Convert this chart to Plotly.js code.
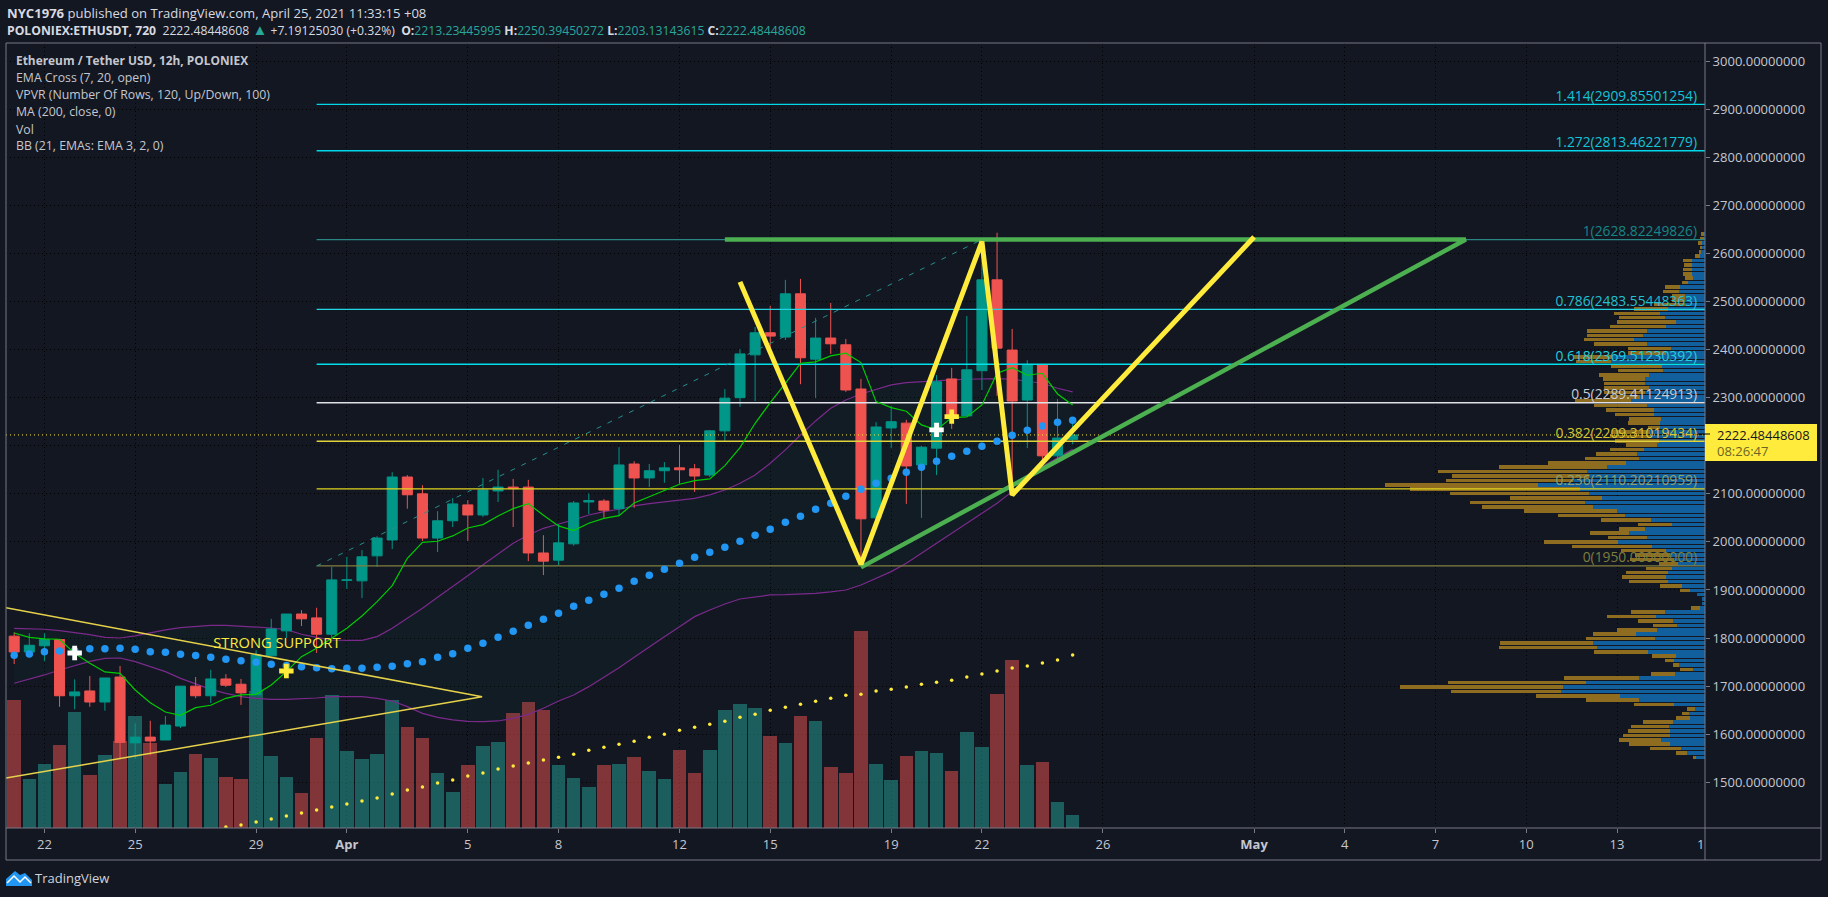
<!DOCTYPE html>
<html><head><meta charset="utf-8">
<script src="https://cdn.plot.ly/plotly-3.0.1.min.js"></script>
<style>html,body{margin:0;padding:0;background:#131722;overflow:hidden}#chart{width:1828px;height:897px}</style>
</head><body><div id="chart"></div>
<script>
const barTimes=['2021-03-21 00:00','2021-03-21 12:00','2021-03-22 00:00','2021-03-22 12:00','2021-03-23 00:00','2021-03-23 12:00','2021-03-24 00:00','2021-03-24 12:00','2021-03-25 00:00','2021-03-25 12:00','2021-03-26 00:00','2021-03-26 12:00','2021-03-27 00:00','2021-03-27 12:00','2021-03-28 00:00','2021-03-28 12:00','2021-03-29 00:00','2021-03-29 12:00','2021-03-30 00:00','2021-03-30 12:00','2021-03-31 00:00','2021-03-31 12:00','2021-04-01 00:00','2021-04-01 12:00','2021-04-02 00:00','2021-04-02 12:00','2021-04-03 00:00','2021-04-03 12:00','2021-04-04 00:00','2021-04-04 12:00','2021-04-05 00:00','2021-04-05 12:00','2021-04-06 00:00','2021-04-06 12:00','2021-04-07 00:00','2021-04-07 12:00','2021-04-08 00:00','2021-04-08 12:00','2021-04-09 00:00','2021-04-09 12:00','2021-04-10 00:00','2021-04-10 12:00','2021-04-11 00:00','2021-04-11 12:00','2021-04-12 00:00','2021-04-12 12:00','2021-04-13 00:00','2021-04-13 12:00','2021-04-14 00:00','2021-04-14 12:00','2021-04-15 00:00','2021-04-15 12:00','2021-04-16 00:00','2021-04-16 12:00','2021-04-17 00:00','2021-04-17 12:00','2021-04-18 00:00','2021-04-18 12:00','2021-04-19 00:00','2021-04-19 12:00','2021-04-20 00:00','2021-04-20 12:00','2021-04-21 00:00','2021-04-21 12:00','2021-04-22 00:00','2021-04-22 12:00','2021-04-23 00:00','2021-04-23 12:00','2021-04-24 00:00','2021-04-24 12:00','2021-04-25 00:00'];
const openPrice=[1804,1771,1784,1797,1680,1690,1667,1719,1582,1594,1588,1617,1700,1680,1715,1704,1682,1763,1815,1850,1842,1808,1920,1919,1971,2004,2135,2100,2008,2044,2077,2056,2106,2114,2114,1977,1962,1996,2083,2085,2069,2162,2133,2148,2154,2152,2139,2231,2300,2389,2435,2426,2516,2380,2424,2410,2318,2050,2237,2247,2160,2195,2339,2262,2356,2545,2399,2295,2368,2179,2213.23];
const closePrice=[1771,1785,1797,1680,1688,1667,1717,1583,1594,1586,1619,1700,1680,1715,1702,1686,1765,1819,1850,1840,1808,1921,1921,1969,2008,2135,2098,2008,2044,2079,2056,2108,2114,2111,1977,1960,1998,2081,2086,2066,2160,2133,2148,2154,2150,2137,2231,2299,2391,2435,2428,2516,2383,2424,2412,2316,2048,2239,2250,2158,2197,2333,2262,2358,2545,2403,2293,2368,2179,2216,2222.48];
const highPrice=[1812,1810,1810,1797,1714,1721,1717,1742,1623,1628,1638,1700,1719,1734,1725,1715,1775,1840,1850,1858,1863,1948,1969,1983,2012,2145,2139,2118,2064,2091,2087,2133,2150,2131,2129,2014,2037,2085,2101,2089,2197,2168,2162,2166,2202,2162,2233,2318,2401,2447,2491,2545,2547,2466,2497,2422,2339,2249,2283,2254,2200,2347,2362,2470,2625,2643,2443,2378,2370,2297,2250.39];
const lowPrice=[1746,1760,1752,1657,1652,1657,1649,1548,1548,1556,1588,1613,1675,1665,1698,1661,1682,1763,1800,1825,1769,1799,1902,1883,1948,1985,2069,2002,1979,2031,2002,2052,2083,2031,1960,1931,1951,1992,2058,2050,2056,2071,2114,2123,2121,2104,2135,2210,2281,2293,2392,2420,2328,2299,2391,2312,1952,2046,2195,2079,2050,2139,2235,2262,2316,2304,2097,2195,2157,2174,2203.13];
const emaFast=[1810.6,1801.6,1798.2,1797.5,1768.3,1747.5,1729.5,1726.7,1692,1665.7,1646.3,1639.4,1655.3,1660.2,1674.7,1681.7,1683,1702.5,1730.2,1761.4,1778.7,1799.5,1820.3,1846,1875.8,1909,1966,1999.2,2001.3,2012.4,2029,2036,2054,2069.3,2079.6,2055.4,2033.2,2023.5,2038.7,2049,2054.7,2081,2094.2,2108,2119.9,2127.5,2131,2158.7,2196,2246.7,2289.7,2329.9,2371.5,2374.3,2386.8,2392.4,2372.9,2291.8,2279.3,2271.7,2243.3,2232.9,2258.5,2259.9,2284.9,2350.7,2362.5,2346.6,2350.7,2307.7,2284.9];
const bbUpper=[1820.3,1819.6,1818.3,1815.5,1812,1807.2,1801.6,1800.2,1804.4,1811.3,1816.9,1821.7,1824.5,1826.6,1826.6,1825.2,1823.8,1821,1817.6,1807.9,1801.6,1796,1795.4,1795.4,1803,1820.3,1841,1861.9,1884.8,1907,1929.9,1952,1974.3,1997.1,2014.5,2028.3,2037.3,2045.7,2056,2063,2067.9,2074.8,2079.6,2083.8,2086.6,2090.7,2097.7,2108,2121.9,2139.2,2163.5,2191.3,2222.4,2251.6,2277.9,2295.3,2307.7,2317.4,2326.4,2331.3,2333.4,2336.2,2336.9,2338.3,2339.6,2339.6,2338.3,2334.8,2329.9,2319.5,2311.9];
const bbLower=[1706,1714.3,1723.3,1733.7,1743.4,1751.7,1757.9,1758.6,1751,1740.6,1730.2,1716.3,1704.5,1693.4,1685.1,1678.2,1674.7,1672.6,1672.6,1673.3,1675.4,1678.2,1678.9,1678.2,1674.7,1669.2,1657.4,1643.5,1635.2,1629.7,1626.9,1626.2,1627.6,1633.1,1641.4,1653.9,1669.2,1681.6,1699,1718.4,1738.5,1760,1782.2,1803,1823.8,1844.6,1858.4,1870.9,1881.3,1886.2,1889.7,1890.3,1891,1893.1,1895.9,1900,1910.4,1924.3,1938.2,1955.5,1976.3,1997.1,2017.9,2038.7,2059.5,2080.3,2104.6,2128.8,2156.6,2173.9,2192.7];
const maSlow=[1764.2,1767,1771.8,1773.2,1773.9,1778,1778,1778.7,1776.6,1771.8,1770.4,1766.3,1763.5,1760,1755.8,1753,1749.6,1745.4,1742.7,1740.6,1738.5,1736.4,1737.1,1737.1,1739.2,1741.3,1746.8,1751,1760,1767.6,1778.7,1789.1,1801.6,1814.1,1826.6,1839,1851.5,1866.1,1878.6,1891,1903.5,1918,1930.6,1943,1955.5,1968,1978.4,1988.8,2001.3,2013.8,2026.2,2040.8,2053.3,2067.8,2080.3,2094.9,2109.4,2121.9,2132.3,2144.8,2155.2,2167.7,2178.1,2188.5,2198.9,2209.3,2221.8,2232.2,2241.2,2248.8,2253];
const volume=[128.3,49.3,64.3,83.3,116.3,53.3,73.3,87.3,112.3,85.3,44.3,56.3,74.3,70.3,51.3,49.3,137.3,72.3,51.3,35.3,90.3,133.3,77.3,69.3,74.3,128.3,101.3,90.3,55.3,36.3,63.3,82.3,86.3,115.3,126.3,118.3,63.3,50.3,41.3,63.3,64,71,57,49,78,55,78,118,124,120,92,85,112,107,61,55,197.5,64,48,72,77,75,57,96,81,134,168,63,66,26,13];
const volAverage=[null,null,null,null,null,null,null,null,null,null,null,null,null,null,1,3,6,9,12,15,18,21,24,27,30,34,38,41,45,48,52,55,59,62,65,68,70.7,73.7,77.7,80.7,83.7,86.7,90.7,93.7,97.7,100.7,103.7,106.7,110.7,113.7,117.7,120.7,123.7,126.7,129.7,132.7,133.7,137,138.7,141,143.7,145.7,147.7,151,154,157,160,162,165,168,173];
const profilePrice=[1552.0,1561.1,1570.3,1579.4,1588.6,1597.7,1606.9,1616.0,1625.1,1634.3,1643.4,1652.6,1661.7,1670.9,1680.0,1689.1,1698.3,1707.4,1716.6,1725.7,1734.9,1744.0,1753.1,1762.3,1771.4,1780.6,1789.7,1798.9,1808.0,1817.1,1826.3,1835.4,1844.6,1853.7,1862.9,1872.0,1881.1,1890.3,1899.4,1908.6,1917.7,1926.9,1936.0,1945.1,1954.3,1963.4,1972.6,1981.7,1990.9,2000.0,2009.1,2018.3,2027.4,2036.6,2045.7,2054.9,2064.0,2073.1,2082.3,2091.4,2100.6,2109.7,2118.9,2128.0,2137.1,2146.3,2155.4,2164.6,2173.7,2182.9,2192.0,2201.1,2210.3,2219.4,2228.6,2237.7,2246.9,2256.0,2265.1,2274.3,2283.4,2292.6,2301.7,2310.9,2320.0,2329.1,2338.3,2347.4,2356.6,2365.7,2374.9,2384.0,2393.1,2402.3,2411.4,2420.6,2429.7,2438.9,2448.0,2457.1,2466.3,2475.4,2484.6,2493.7,2502.9,2512.0,2521.1,2530.3,2539.4,2548.6,2557.7,2566.9,2576.0,2585.1,2594.3,2603.4,2612.6,2621.7,2630.9,2640.0];
const profileUp=[9.3,18.3,24.3,35.3,44.3,35.3,35.3,36.3,32.3,15.3,16.3,10.3,31.3,66.3,85.3,144.3,142.3,119.3,66.3,30.3,12.3,26.3,31.3,29.3,57.3,108.3,112.3,50.3,69.3,48.3,28.3,32.3,49.3,40.3,5.3,3.3,3.3,8.3,15.3,23.3,37.3,39.3,37.3,33.3,27.3,31.3,35.3,39.3,53.3,87.3,58.3,76.3,60.3,33.3,54.3,80.3,88.3,112.3,120.3,103.3,116.3,125.3,167.3,132.3,116.3,118.3,98.3,79.3,66.3,68.3,61.3,48.3,46.3,55.3,55.3,45.3,45.3,44.3,51.3,51.3,58.3,74.3,65.3,60.3,56.3,60.3,60.3,56.3,42.3,43.3,93.7,93.7,38.7,34.3,58.3,71.3,62.3,58.3,39.3,29.3,40.3,45.3,37.3,20,20.3,20.3,26,25.3,17.3,12,13.3,13.3,13.3,13.3,5.3,4.3,3.3,3.3,1.3,1.3];
const profileDown=[2.7,11,31,41,42,47,42,38,30,14,7,8,40,53,84,110,163,138,75,24,13,6,9,24,54,98,93,69,43,40,24,35,49,34,9,0,0,0,10,22,39,44,42,26,19,44,35,45,80,74,39,39,26,34,50,67,93,111,115,92,139,170,153,127,137,149,108,78,54,41,34,31,44,40,38,12,32,32,39,48,53,56,30,41,45,41,42,50,45,51,35,37,38,43,53,50,56,60,56,59,46,46,34,31,13,13,16,15,6,8.3,9,9,8,9,5,2,2,4,4,3];
const fibRatios=['0','0.236','0.382','0.5','0.618','0.786','1','1.272','1.414'];
const fibLevels=[1950.00000000,2110.20210959,2209.31019434,2289.41124913,2369.51230392,2483.55448363,2628.82249826,2813.46221779,2909.85501254];
const fibLevelText=['1950.00000000','2110.20210959','2209.31019434','2289.41124913','2369.51230392','2483.55448363','2628.82249826','2813.46221779','2909.85501254'];
const fibColors=['#807f3e','#e2d41e','#e0d23a','#dfe1e6','#00e0ea','#22d3e0','#2a8585','#00d8e8','#00d8e8'];
const fibTextColors=['#7d7e3e','#8fa070','#d6c632','#c9ccd4','#22cfdc','#22c0d2','#178686','#12c4d8','#12c4d8'];
const zigzagTimes=['2021-04-14 00:00','2021-04-18 00:00','2021-04-22 00:00','2021-04-23 00:00','2021-05-01 00:00'];
const zigzagPrices=[2540.8,1953.5,2624.6,2097.7,2634];
const channelTimes=['2021-04-13 12:00','2021-05-08 00:00','2021-04-18 00:00'];
const channelPrices=[2629,2629,1947];
const wedgeTimes=['2021-03-20 17:30','2021-04-05 11:20','2021-03-20 17:30'];
const wedgePrices=[1863,1678,1509];
const fibDiagonalTimes=['2021-03-31 00:00','2021-04-22 00:00'];
const fibDiagonalPrices=[1950,2628.82];
const crossWhiteTimes=['2021-03-23 00:00','2021-04-20 12:00'];
const crossWhitePrices=[1769,2233];
const crossGoldTimes=['2021-03-30 00:00','2021-04-21 00:00'];
const crossGoldPrices=[1731.5,2260.6];
const lastPrice=2222.48448608;
const tickDates=['2021-03-22','2021-03-25','2021-03-29','2021-04-01','2021-04-05','2021-04-08','2021-04-12','2021-04-15','2021-04-19','2021-04-22','2021-04-26','2021-05-01','2021-05-04','2021-05-07','2021-05-10','2021-05-13'];
const tickLabels=['22','25','29','<b>Apr</b>','5','8','12','15','19','22','26','<b>May</b>','4','7','10','13'];
const priceTicks=[1500,1600,1700,1800,1900,2000,2100,2200,2300,2400,2500,2600,2700,2800,2900,3000];

const FONT='"Open Sans",sans-serif', BG='#131722', FRAME='#787b86';
const xRange=['2021-03-20 17:30','2021-05-15 21:50'], yRange=[1405,3037.6];
const px=x=>(x-6)/1699, py=y=>(828-y)/785;
const TEAL='#009688', RED='#ef5350';
const up=closePrice.map((c,i)=>c>=openPrice[i]);
const fibStart='2021-03-31 00:00', fibEnd=xRange[1], fibLabelAt='2021-05-15 15:30';
const skip={hoverinfo:'skip',showlegend:false};
const upperLayer={xaxis:'x3',yaxis:'y3'};

const traces=[
 {type:'bar',x:barTimes,y:volume,width:12*3600e3*0.9,marker:{color:up.map(u=>u?'rgba(38,166,154,0.5)':'rgba(239,83,80,0.5)'),line:{width:0}},xaxis:'x',yaxis:'y',...skip},
 {type:'scatter',mode:'markers',x:barTimes,y:volAverage,marker:{color:'#ffeb3b',size:3.5},xaxis:'x',yaxis:'y',...skip},
 {type:'scatter',mode:'lines',x:barTimes,y:bbLower,line:{color:'#7b2a8c',width:1.2},xaxis:'x',yaxis:'y2',...skip},
 {type:'scatter',mode:'lines',x:barTimes,y:bbUpper,line:{color:'#7b2a8c',width:1.2},fill:'tonexty',fillcolor:'rgba(0,150,136,0.04)',xaxis:'x',yaxis:'y2',...skip},
 {type:'bar',orientation:'h',y:profilePrice,x:profileUp,width:7.4,marker:{color:'#125f9e',line:{width:0}},xaxis:'x2',yaxis:'y2',...skip},
 {type:'bar',orientation:'h',y:profilePrice,x:profileDown,width:7.4,marker:{color:'#8e6d20',line:{width:0}},xaxis:'x2',yaxis:'y2',...skip},
];
fibLevels.forEach((v,i)=>traces.push({type:'scatter',mode:'lines',x:[fibStart,fibEnd],y:[v,v],line:{color:fibColors[i],width:1.3},...upperLayer,...skip}));
traces.push(
 {type:'scatter',mode:'lines',x:fibDiagonalTimes,y:fibDiagonalPrices,line:{color:'#268e8e',width:1,dash:'5px,7px'},...upperLayer,...skip},
 {type:'candlestick',x:barTimes,open:openPrice,high:highPrice,low:lowPrice,close:closePrice,...upperLayer,whiskerwidth:0,
  increasing:{line:{color:TEAL,width:1},fillcolor:TEAL},decreasing:{line:{color:RED,width:1},fillcolor:RED},...skip},
 {type:'scatter',mode:'lines',x:[xRange[0],xRange[1]],y:[lastPrice,lastPrice],line:{color:'#ffeb3b',width:1,dash:'1px,3px'},...upperLayer,...skip},
 {type:'scatter',mode:'markers',x:barTimes,y:maSlow,marker:{color:'#2196f3',size:7.5},...upperLayer,...skip},
 {type:'scatter',mode:'lines',x:barTimes,y:emaFast,line:{color:'#00cc00',width:1.2},...upperLayer,...skip},
 {type:'scatter',mode:'lines',x:wedgeTimes,y:wedgePrices,line:{color:'#e6d24a',width:1.5},...upperLayer,...skip},
 {type:'scatter',mode:'lines',x:channelTimes,y:channelPrices,line:{color:'#4caf50',width:4.5},...upperLayer,...skip},
 {type:'scatter',mode:'lines',x:zigzagTimes,y:zigzagPrices,line:{color:'#ffeb3b',width:5},...upperLayer,...skip},
 {type:'scatter',mode:'markers',x:crossWhiteTimes,y:crossWhitePrices,marker:{symbol:'cross',color:'#ffffff',size:12},...upperLayer,...skip},
 {type:'scatter',mode:'markers',x:crossGoldTimes,y:crossGoldPrices,marker:{symbol:'cross',color:'#ffeb3b',size:12},...upperLayer,...skip},
 {type:'scatter',mode:'text',x:fibLevels.map(()=>fibLabelAt),y:fibLevels,text:fibRatios.map((r,i)=>r+'('+fibLevelText[i]+')'),textposition:'top left',
  textfont:{family:FONT,size:13.8,color:fibTextColors},...upperLayer,...skip},
 {type:'scatter',mode:'text',x:['2021-03-29 16:30'],y:[1786],text:['STRONG SUPPORT'],textposition:'middle center',textfont:{family:FONT,size:14.7,color:'#ffeb3b'},...upperLayer,...skip}
);

const note=(x,y,text,o={})=>Object.assign({xref:'paper',yref:'paper',x:px(x),y:py(y),text,showarrow:false,xanchor:'left',yanchor:'middle',align:'left',borderpad:0,
   font:{family:FONT,size:12.3,color:'#c4c7cf'}},o);
const tc=s=>`<span style="color:#2aa79b">${s}</span>`;
const annotations=[
 note(6,13,'<b>NYC1976</b> published on TradingView.com, April 25, 2021 11:33:15 +08',{font:{family:FONT,size:13.1,color:'#d8dae0'}}),
 note(6,29,`<b>POLONIEX:ETHUSDT, 720</b>  2222.48448608 <span style="color:#2aa79b;font-size:15px">▲</span> +7.19125030 (+0.32%)  <b>O:</b>${tc('2213.23445995')} <b>H:</b>${tc('2250.39450272')} <b>L:</b>${tc('2203.13143615')} <b>C:</b>${tc('2222.48448608')}`,{font:{family:FONT,size:12.2,color:'#d8dae0'}}),
 note(15,60,'<b>Ethereum / Tether USD, 12h, POLONIEX</b>',{font:{family:FONT,size:11.9,color:'#c4c7cf'}}),
 note(15,77,'EMA Cross (7, 20, open)'),
 note(15,95,'VPVR (Number Of Rows, 120, Up/Down, 100)'),
 note(15,112,'MA (200, close, 0)'),
 note(15,129,'Vol'),
 note(15,146,'BB (21, EMAs: EMA 3, 2, 0)'),
 note(1716,435,'2222.48448608',{font:{family:FONT,size:13,color:'#131722'}}),
 note(1716,451,'08:26:47',{font:{family:FONT,size:13,color:'#6b6425'}}),
 note(1705,844,'1',{xanchor:'right',font:{family:FONT,size:13,color:'#c4c7cf'}}),
 note(34,878,'TradingView',{font:{family:FONT,size:13,color:'#d1d4dc'}})
];
const seg=(x0,y0,x1,y1,color=FRAME)=>({type:'line',xref:'paper',yref:'paper',x0:px(x0),y0:py(y0),x1:px(x1),y1:py(y1),line:{color,width:1},layer:'above'});
const shapes=[
 seg(6,43,1821,43),seg(6,43,6,860),seg(6,860,1821,860),seg(1821,43,1821,860),seg(1705,43,1705,860),seg(6,828,1821,828),
 {type:'rect',xref:'paper',yref:'paper',x0:px(1705),x1:px(1817),y0:py(424),y1:py(461),fillcolor:'#ffeb3b',line:{width:0},layer:'above'},
 seg(1698,434,1710,434,'#000000'),
 {type:'path',xref:'paper',yref:'paper',layer:'above',fillcolor:'#2196f3',line:{width:0},
  path:`M ${px(6)} ${py(886)} L ${px(6)} ${py(879)} L ${px(15)} ${py(871)} L ${px(20)} ${py(875)} L ${px(25)} ${py(873)} L ${px(32)} ${py(880)} L ${px(32)} ${py(886)} Z`},
 {type:'path',xref:'paper',yref:'paper',layer:'above',line:{color:'#ffffff',width:1.5},
  path:`M ${px(7)} ${py(883)} L ${px(14)} ${py(876)} L ${px(20)} ${py(882)} L ${px(25)} ${py(877)} L ${px(31)} ${py(883)}`}
];
const layout={
 width:1828,height:897,margin:{l:6,r:123,t:43,b:69,pad:0},paper_bgcolor:BG,plot_bgcolor:BG,showlegend:false,barmode:'stack',boxgap:0.15,boxgroupgap:0.22,
 font:{family:FONT,size:13,color:'#c4c7cf'},
 xaxis:{type:'date',range:xRange,tickmode:'array',tickvals:tickDates,ticktext:tickLabels,ticks:'outside',ticklen:4,tickcolor:FRAME,tickwidth:1,
   showgrid:true,gridcolor:'#000000',griddash:'1px,3px',gridwidth:1,zeroline:false,showline:false,rangeslider:{visible:false},tickfont:{family:FONT,size:13,color:'#c4c7cf'},fixedrange:true},
 xaxis2:{overlaying:'x',anchor:'y2',range:[1699,0],visible:false,fixedrange:true},
 xaxis3:{type:'date',overlaying:'x',anchor:'y3',range:xRange,visible:false,showgrid:false,zeroline:false,rangeslider:{visible:false},fixedrange:true},
 yaxis:{range:[0,785],visible:false,showgrid:false,zeroline:false,fixedrange:true},
 yaxis2:{overlaying:'y',side:'right',anchor:'x',range:yRange,tickmode:'array',tickvals:priceTicks,tickformat:'.8f',ticks:'outside',ticklen:4,tickcolor:FRAME,tickwidth:1,
   showgrid:true,gridcolor:'#000000',griddash:'1px,3px',gridwidth:1,zeroline:false,showline:false,tickfont:{family:FONT,size:13,color:'#c4c7cf'},fixedrange:true},
 yaxis3:{overlaying:'y',anchor:'x3',side:'right',range:yRange,visible:false,showgrid:false,zeroline:false,fixedrange:true},
 annotations,shapes
};
Plotly.newPlot('chart',traces,layout,{displayModeBar:false,staticPlot:true});
</script></body></html>
